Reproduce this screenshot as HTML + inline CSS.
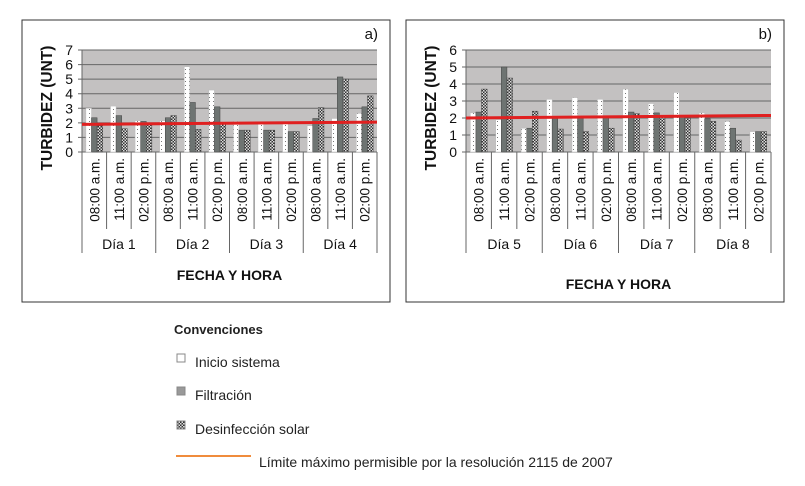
<!DOCTYPE html>
<html><head><meta charset="utf-8"><style>
body{margin:0;background:#fff;width:805px;height:486px;overflow:hidden;font-family:"Liberation Sans",sans-serif}
svg{position:absolute;left:0;top:0}
</style></head><body>
<svg id="c" width="805" height="486" xmlns="http://www.w3.org/2000/svg">
<defs>
<pattern id="dots" width="4" height="4" patternUnits="userSpaceOnUse"><rect width="4" height="4" fill="#fff"/><rect x="1" y="1" width="1" height="1" fill="#777"/></pattern>
<pattern id="chk" width="3" height="3" patternUnits="userSpaceOnUse"><rect width="3" height="3" fill="#333"/><rect x="0" y="0" width="1.5" height="1.5" fill="#ddd"/><rect x="1.5" y="1.5" width="1.5" height="1.5" fill="#ddd"/></pattern>
</defs>
</svg>
<script>
const categories=["08:00 a.m.","11:00 a.m.","02:00 p.m."];
const daysA=["Día 1","Día 2","Día 3","Día 4"];
const daysB=["Día 5","Día 6","Día 7","Día 8"];
const inicioA=[3.0,3.15,2.15,2.15,5.85,4.25,2.1,2.05,2.0,1.8,2.3,2.65];
const filtA=[2.35,2.5,2.1,2.35,3.4,3.1,1.5,1.5,1.4,2.3,5.15,3.1];
const desinfA=[1.8,1.6,1.9,2.5,1.55,2.0,1.5,1.5,1.4,3.05,5.0,3.85];
const limitA=[1.9,2.05];
const ticksA=[0,1,2,3,4,5,6,7];
const inicioB=[2.3,1.9,1.4,3.1,3.2,3.1,3.7,2.85,3.5,2.3,1.8,1.2];
const filtB=[2.35,5.0,1.4,2.1,2.1,2.1,2.35,2.3,2.15,1.95,1.4,1.2];
const desinfB=[3.7,4.35,2.4,1.35,1.2,1.4,2.25,2.15,2.0,1.8,0.7,1.2];
const limitB=[2.0,2.15];
const ticksB=[0,1,2,3,4,5,6];

const svg=document.getElementById('c');
const NS="http://www.w3.org/2000/svg";
function mk(tag,attrs,parent){const e=document.createElementNS(NS,tag);for(const k in attrs)e.setAttribute(k,attrs[k]);(parent||svg).appendChild(e);return e;}
function txt(s,attrs,parent){const e=mk('text',attrs,parent);e.textContent=s;return e;}

function chart(cfg){
  const g=mk('g',{});
  
  
  const fr=mk('rect',{x:cfg.fx,y:20,width:cfg.fw,height:282,fill:'#fff',stroke:'#333','stroke-width':1},g);
  
  
  const L=cfg.left,R=cfg.right,T=50,B=152,max=cfg.ticks[cfg.ticks.length-1];
  const y=v=>B-(v/max)*(B-T);
  const n=cfg.s1.length,gw=(R-L)/n;
  const x=i=>L+i*gw;
  const bg=mk('rect',{x:L,y:T,width:R-L,height:B-T,fill:'#c3c1c1'},g);
  
  
  cfg.ticks.forEach(t=>{
    const gl=mk('line',{x1:L-4,x2:R,y1:y(t),y2:y(t),stroke:'#666','stroke-width':1},g);
    
    
    const tl=txt(String(t),{x:L-9,y:y(t)+5,'font-size':14,'text-anchor':'end',fill:'#111'},g);
    
    
  });
  mk('line',{x1:L,x2:L,y1:T,y2:B,stroke:'#666'},g);
  const bw=5.6,fills=['url(#dots)','#6e7472','url(#chk)'],series=[cfg.s1,cfg.s2,cfg.s3];
  for(let i=0;i<n;i++){
    series.forEach((s,k)=>{
      const bx=x(i)+gw/2-bw*1.5+k*bw;
      const b=mk('rect',{x:bx,y:y(s[i]),width:bw,height:B-y(s[i]),fill:fills[k],stroke:k==0?'#bbb':'#444','stroke-width':0.5},g);
      
      
    });
  }
  const ln=mk('line',{x1:L,x2:R,y1:y(cfg.limit[0]),y2:y(cfg.limit[1]),stroke:'#e02020','stroke-width':3},g);
  
  
  // category axis
  for(let i=0;i<=n;i++){
    const big=i%3==0;
    mk('line',{x1:x(i),x2:x(i),y1:B,y2:big?cfg.dayBottom:cfg.catBottom,stroke:'#666','stroke-width':1},g);
  }
  for(let i=0;i<n;i++){
    const cx=x(i)+gw/2+5;
    const cl=txt(categories[i%3],{x:cx,y:B+6,'font-size':13.5,'text-anchor':'end',transform:`rotate(-90 ${cx} ${B+6})`,fill:'#111'},g);
    
    
  }
  cfg.days.forEach((d,j)=>{
    const dl=txt(d,{x:x(j*3)+gw*1.5,y:cfg.dayY,'font-size':14,'text-anchor':'middle',fill:'#111'},g);
    
    
  });
  const xt=txt('FECHA Y HORA',{x:(L+R)/2,y:cfg.titleY,'font-size':14,'font-weight':'bold','text-anchor':'middle',fill:'#111'},g);
  
  
  const yt=txt('TURBIDEZ (UNT)',{x:cfg.ytx,y:cfg.yty,'font-size':15.5,'font-weight':'bold','text-anchor':'middle',transform:`rotate(-90 ${cfg.ytx} ${cfg.yty})`,fill:'#111'},g);
  
  
  const pl=txt(cfg.panel,{x:cfg.fx+cfg.fw-12,y:39,'font-size':15,'text-anchor':'end',fill:'#111'},g);
  
  
}
chart({name:'chart-a',fx:22,fw:368,left:82,right:377,ticks:ticksA,s1:inicioA,s2:filtA,s3:desinfA,limit:limitA,days:daysA,panel:'a)',catBottom:229,dayBottom:253,dayY:249,titleY:280,ytx:52,yty:108});
chart({name:'chart-b',fx:406,fw:378,left:466,right:771,ticks:ticksB,s1:inicioB,s2:filtB,s3:desinfB,limit:limitB,days:daysB,panel:'b)',catBottom:229,dayBottom:253,dayY:249,titleY:289,ytx:436,yty:108});

// legend
const lg=mk('g',{});


const lt=txt('Convenciones',{x:174,y:334,'font-size':13,'font-weight':'bold',fill:'#222'},lg);


const items=[['Inicio sistema','#fff',367],['Filtración','#999',400],['Desinfección solar','url(#chk)',434]];
items.forEach(it=>{
  const sw=mk('rect',{x:177,y:it[2]-13,width:8,height:8,fill:it[1],stroke:'#888'},lg);
  
  
  const t=txt(it[0],{x:195,y:it[2],'font-size':14,fill:'#222'},lg);
  
  
});
const ll=mk('line',{x1:176,x2:251,y1:456,y2:456,stroke:'#f08c3c','stroke-width':2},lg);


const lt2=txt('Límite máximo permisible por la resolución 2115 de 2007',{x:259,y:467,'font-size':14,fill:'#222'},lg);


</script>
</body></html>
